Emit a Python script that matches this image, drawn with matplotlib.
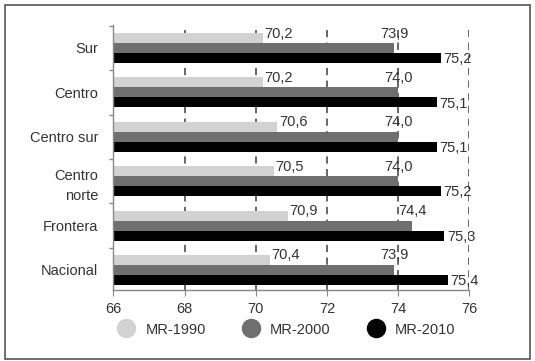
import matplotlib
matplotlib.use("Agg")
import matplotlib.pyplot as plt
from matplotlib.patches import Rectangle
from matplotlib.lines import Line2D
import numpy as np

plt.rcParams['font.family'] = ['Liberation Sans', 'DejaVu Sans']

categories = ["Sur", "Centro", "Centro sur", "Centro\nnorte", "Frontera", "Nacional"]
series_names = ["MR-1990", "MR-2000", "MR-2010"]
mr1990 = [70.2, 70.2, 70.6, 70.5, 70.9, 70.4]
mr2000 = [73.9, 74.0, 74.0, 74.0, 74.4, 73.9]
mr2010 = [75.2, 75.1, 75.1, 75.2, 75.3, 75.4]
colors = ["#d2d2d2", "#6f6f6f", "#000000"]
xticks = [66, 68, 70, 72, 74, 76]

fig = plt.figure(figsize=(5.35, 3.61), dpi=100)
ax = fig.add_axes([0.212, 0.197, 0.665, 0.734])

y = np.arange(len(categories))
h = 0.225
offsets = [-h, 0, h]
for vals, off, c in zip([mr1990, mr2000, mr2010], offsets, colors):
    ax.barh(y + off, np.array(vals) - 66, left=66, height=h, color=c, zorder=2)

fs = 10.5
tc = "#333333"
for i in range(len(categories)):
    ax.text(mr1990[i] + 0.05, y[i] - h - 0.1, f"{mr1990[i]:.1f}".replace(".", ","),
            ha="left", va="center", fontsize=fs, color=tc, zorder=4)
    ax.text(mr2000[i], y[i] - h - 0.1, f"{mr2000[i]:.1f}".replace(".", ","),
            ha="center", va="center", fontsize=fs, color=tc, zorder=4)
    ax.text(mr2010[i] + 0.07, y[i] + h + 0.03, f"{mr2010[i]:.1f}".replace(".", ","),
            ha="left", va="center", fontsize=fs, color=tc, zorder=4)

ax.set_xlim(66, 76)
ax.set_ylim(5.45, -0.52)
ax.set_xticks(xticks)
ax.set_xticklabels([str(t) for t in xticks], fontsize=fs, color=tc)
ax.set_yticks(y)
ax.set_yticklabels(categories, fontsize=fs, color=tc, linespacing=1.6)
ax.set_yticks(np.arange(-0.5, 5.5, 1.0), minor=True)
ax.tick_params(axis='y', which='major', length=0, pad=11)
ax.tick_params(axis='y', which='minor', length=3, color="#888888", width=1)
ax.tick_params(axis='x', length=4, color="#888888", pad=5)

for t in xticks[1:]:
    ax.axvline(t, color="#5a5a5a", linestyle=(0, (4, 3)), linewidth=1.3, zorder=1)

for s in ["top", "right"]:
    ax.spines[s].set_visible(False)
for s in ["left", "bottom"]:
    ax.spines[s].set_color("#888888")
    ax.spines[s].set_linewidth(1)

handles = [Line2D([0], [0], marker='o', linestyle='none', markersize=13,
                  markerfacecolor=c, markeredgecolor=c) for c in colors]
fig.legend(handles, series_names, loc="center", bbox_to_anchor=(0.53, 0.087),
           ncol=3, frameon=False, fontsize=fs, handletextpad=0.3,
           columnspacing=2.1, labelcolor=tc)

fig.patches.append(Rectangle((5 / 535, 2 / 361), 525 / 535, 354 / 361,
                             transform=fig.transFigure, fill=False,
                             edgecolor="#555555", linewidth=1.2))

fig.savefig("out.png", dpi=100)
